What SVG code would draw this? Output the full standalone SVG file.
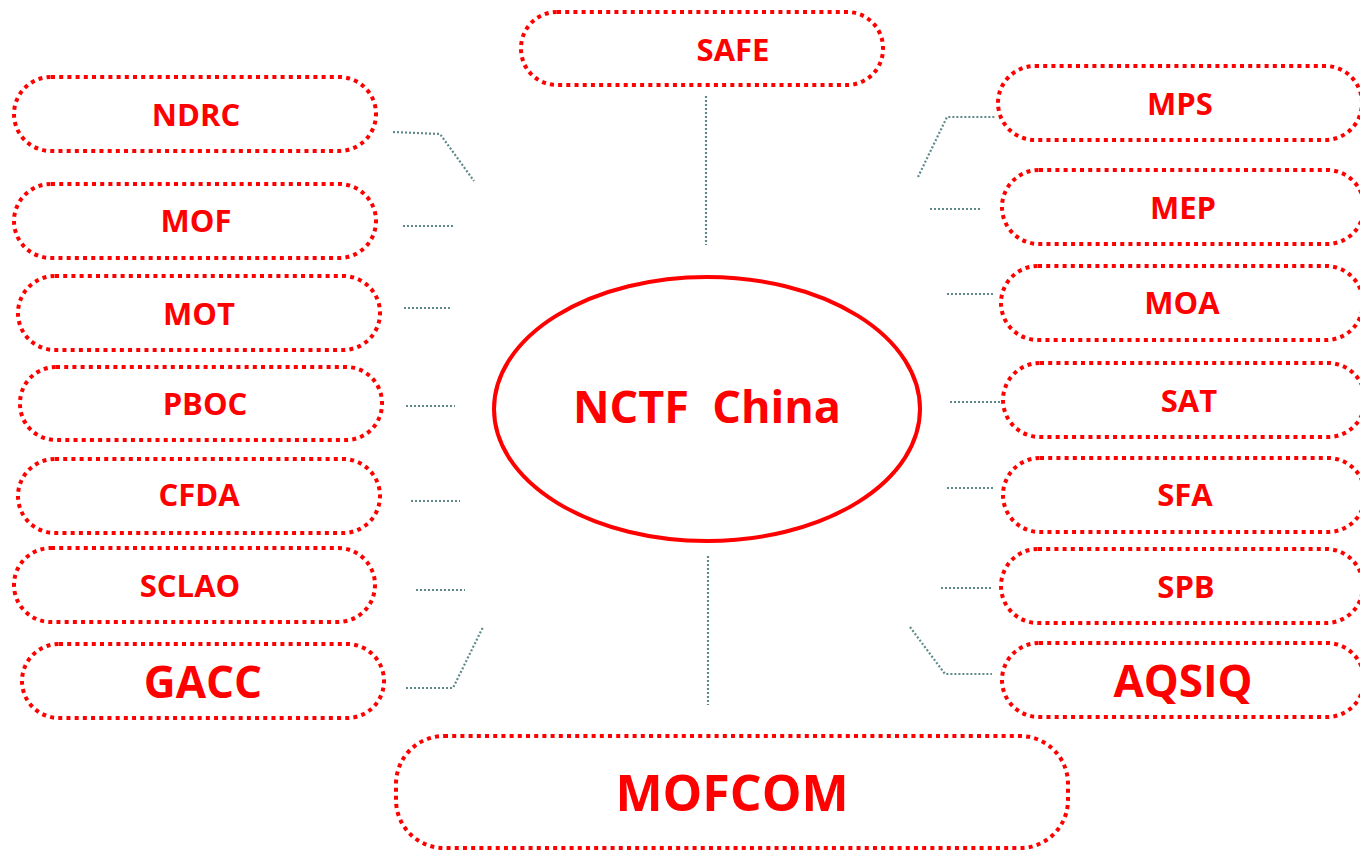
<svg xmlns="http://www.w3.org/2000/svg" width="1360" height="850" viewBox="0 0 1360 850">
<style>
.box{fill:#fff;stroke:#ff0000;stroke-width:4;stroke-dasharray:4 4.2;}
.t{font-family:"Open Sans","Liberation Sans",sans-serif;font-weight:bold;fill:#ff0000;text-anchor:middle;dominant-baseline:central;}
.s{font-size:31px;}
.l{font-size:44px;}
.c{fill:none;stroke:#5f8a8a;stroke-width:2.2;stroke-dasharray:2 2;}
</style>
<rect width="1360" height="850" fill="#fff"/>
<g id="connectors">
<polyline class="c" points="393,132 440,134 474,181"/>
<line class="c" x1="403" y1="226" x2="454" y2="226"/>
<line class="c" x1="404" y1="308" x2="452" y2="308"/>
<line class="c" x1="406" y1="406" x2="455" y2="406"/>
<line class="c" x1="411" y1="501" x2="460" y2="501"/>
<line class="c" x1="416" y1="590" x2="465" y2="590"/>
<polyline class="c" points="406,688 453,688 483,627"/>
<line class="c" x1="706" y1="96" x2="706" y2="245"/>
<line class="c" x1="708" y1="556" x2="708" y2="705"/>
<polyline class="c" points="918,177 947,117 995,117"/>
<line class="c" x1="930" y1="209" x2="982" y2="209"/>
<line class="c" x1="947" y1="294" x2="995" y2="294"/>
<line class="c" x1="950" y1="402" x2="1005" y2="402"/>
<line class="c" x1="947" y1="488" x2="995" y2="488"/>
<line class="c" x1="941" y1="588" x2="992" y2="588"/>
<polyline class="c" points="910,627 945,674 992,674"/>
</g>
<g id="center">
<ellipse cx="707" cy="409" rx="213" ry="132" fill="#fff" stroke="#ff0000" stroke-width="4"/>
<text class="t" x="707" y="405" font-size="45" xml:space="preserve" style="white-space:pre">NCTF  China</text>
</g>
<g id="SAFE"><rect class="box" x="521" y="12" width="362" height="73" rx="36"/><text class="t s" x="733" y="49">SAFE</text></g>
<g id="NDRC"><rect class="box" x="14" y="77" width="362" height="74" rx="37"/><text class="t s" x="196" y="114">NDRC</text></g>
<g id="MOF"><rect class="box" x="14" y="184" width="362" height="74" rx="37"/><text class="t s" x="196" y="220">MOF</text></g>
<g id="MOT"><rect class="box" x="18" y="276" width="362" height="74" rx="37"/><text class="t s" x="199" y="313">MOT</text></g>
<g id="PBOC"><rect class="box" x="20" y="367" width="362" height="73" rx="36"/><text class="t s" x="205" y="403">PBOC</text></g>
<g id="CFDA"><rect class="box" x="18" y="459" width="362" height="74" rx="37"/><text class="t s" x="199" y="494">CFDA</text></g>
<g id="SCLAO"><rect class="box" x="14" y="548" width="361" height="74" rx="37"/><text class="t s" x="190" y="585">SCLAO</text></g>
<g id="GACC"><rect class="box" x="22" y="644" width="362" height="74" rx="37"/><text class="t l" x="203" y="681">GACC</text></g>
<g id="MPS"><rect class="box" x="998" y="66" width="364" height="74" rx="37"/><text class="t s" x="1180" y="103">MPS</text></g>
<g id="MEP"><rect class="box" x="1002" y="170" width="362" height="74" rx="37"/><text class="t s" x="1183" y="207">MEP</text></g>
<g id="MOA"><rect class="box" x="1001" y="266" width="362" height="74" rx="37"/><text class="t s" x="1182" y="302">MOA</text></g>
<g id="SAT"><rect class="box" x="1003" y="363" width="362" height="74" rx="37"/><text class="t s" x="1189" y="400">SAT</text></g>
<g id="SFA"><rect class="box" x="1003" y="458" width="362" height="74" rx="37"/><text class="t s" x="1185" y="494">SFA</text></g>
<g id="SPB"><rect class="box" x="1001" y="549" width="362" height="74" rx="37"/><text class="t s" x="1186" y="586">SPB</text></g>
<g id="AQSIQ"><rect class="box" x="1002" y="643" width="362" height="74" rx="37"/><text class="t l" x="1183" y="680">AQSIQ</text></g>
<g id="MOFCOM"><rect class="box" x="396" y="736" width="672" height="112" rx="48"/><text class="t" x="732" y="792" font-size="50">MOFCOM</text></g>
</svg>
